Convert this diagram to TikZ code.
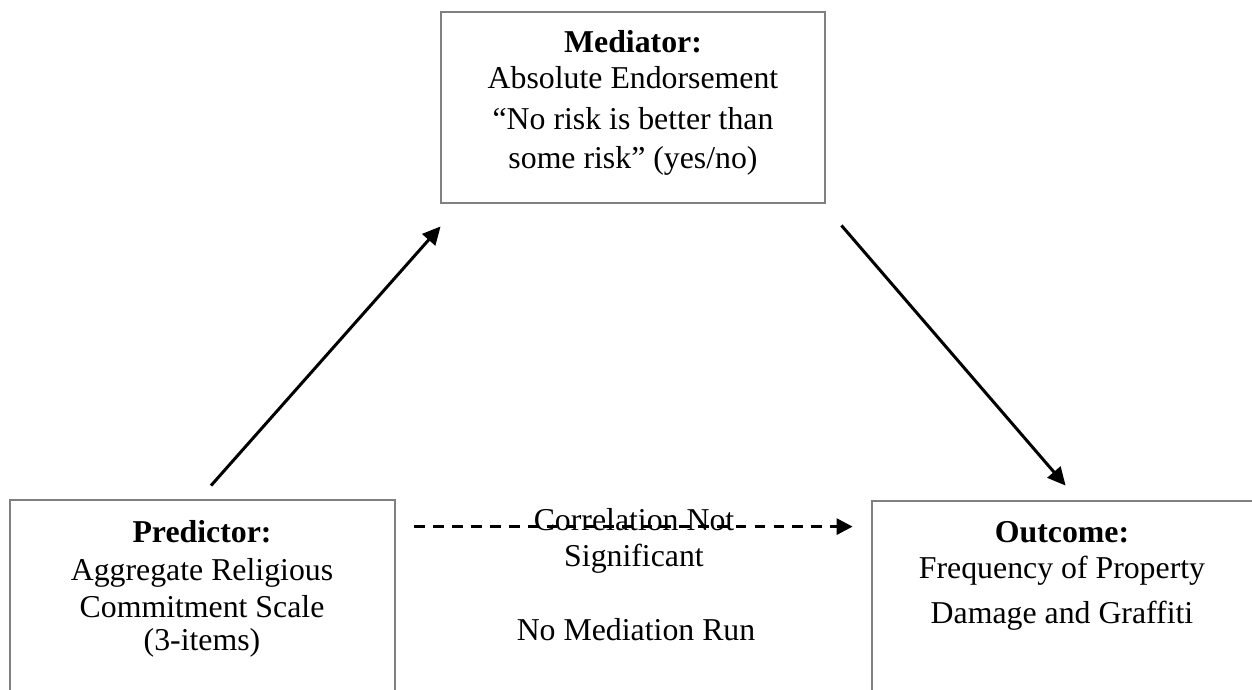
\documentclass[tikz,border=0pt]{standalone}
\usepackage{fontspec}
\setmainfont{Liberation Serif}
\usetikzlibrary{arrows.meta}

\tikzset{
  varbox/.style={draw=boxgray, line width=2.8pt, minimum width=#1, inner sep=0pt},
  txt/.style={anchor=base, inner sep=0pt, font=\fontsize{31.8}{37}\selectfont},
  path/.style={line width=3pt, -{Triangle[length=18pt,width=17pt]}},
  nspath/.style={line width=3pt, dash pattern=on 10.7pt off 8.2pt, -{Triangle[length=16pt,width=16pt]}}
}
\definecolor{boxgray}{HTML}{808080}

\begin{document}
\begin{tikzpicture}[x=1pt, y=-1pt]
\useasboundingbox (0,0) rectangle (1252,690);

% boxes (the lower two run past the bottom edge of the page)
\node[varbox=384pt, minimum height=191pt] (med) at (633,107.5) {};
\node[varbox=385pt, minimum height=260pt] (pred) at (202.5,630) {};
\node[varbox=428pt, minimum height=259pt] (out) at (1086,630.5) {};

% mediator text
\node[txt] (m1) at (633,53) {\textbf{Mediator:}};
\node[txt] (m2) at (633,89) {Absolute Endorsement};
\node[txt] (m3) at (633,129) {“No risk is better than};
\node[txt] (m4) at (633,168) {some risk” (yes/no)};

% predictor text
\node[txt] (p1) at (202,542) {\textbf{Predictor:}};
\node[txt] (p2) at (202,580) {Aggregate Religious};
\node[txt] (p3) at (202,617) {Commitment Scale};
\node[txt] (p4) at (202,650) {(3-items)};

% outcome text
\node[txt] (o1) at (1062,542) {\textbf{Outcome:}};
\node[txt] (o2) at (1062,578) {Frequency of Property};
\node[txt] (o3) at (1062,623) {Damage and Graffiti};

% paths
\coordinate (a1) at ([shift={(8.5,-13)}]pred.north);
\coordinate (a2) at ([shift={(1,22)}]med.south west);
\coordinate (b1) at ([shift={(15,21)}]med.south east);
\coordinate (b2) at ([shift={(195,-14)}]out.north west);
\coordinate (c1) at ([shift={(18,28)}]pred.north east);
\coordinate (c2) at ([shift={(-18,27)}]out.north west);

\draw[path] (a1) -- (a2);
\draw[path] (b1) -- (b2);
\draw[nspath] (c1) -- (c2);

% direct path label
\node[txt] (c3) at (634,530) {Correlation Not};
\node[txt] (c4) at (634,566) {Significant};
\node[txt] (c5) at (636,640) {No Mediation Run};
\end{tikzpicture}
\end{document}
